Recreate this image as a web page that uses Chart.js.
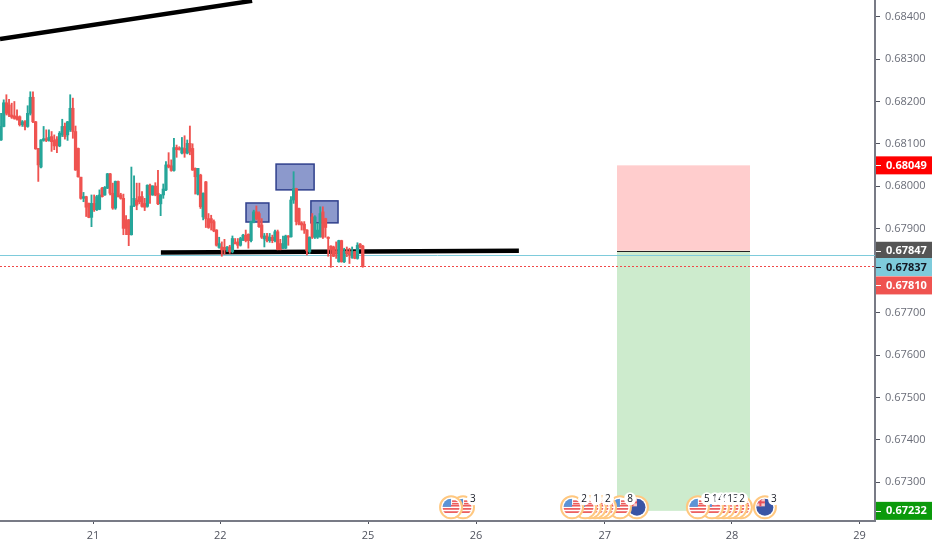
<!DOCTYPE html>
<html>
<head>
<meta charset="utf-8">
<title>Chart</title>
<style>
  html, body { margin: 0; padding: 0; background: #ffffff; }
  canvas { display: block; }
</style>
<script src="https://cdn.jsdelivr.net/npm/chart.js@4"></script>
</head>
<body>
<canvas id="priceChart" width="932" height="550"></canvas>
<script>
// candles, 30 min each
const opens = [
  0.68109,0.68141,0.68197,0.68192,0.68168,0.68166,0.68164,0.68164,0.68145,0.68152,
  0.68141,0.68172,0.68210,0.68152,0.68089,0.68045,0.68108,0.68112,0.68108,0.68117,
  0.68108,0.68111,0.68095,0.68121,0.68141,0.68121,0.68133,0.68184,0.68129,0.68089,
  0.68021,0.67971,0.67975,0.67959,0.67926,0.67959,0.67944,0.67945,0.67995,0.67979,
  0.67995,0.68029,0.67983,0.67948,0.68011,0.67979,0.67971,0.67920,0.67920,0.67885,
  0.67953,0.67967,0.67975,0.67975,0.67959,0.67952,0.68002,0.67979,0.68000,0.67983,
  0.67958,0.67979,0.67991,0.68050,0.68048,0.68037,0.68091,0.68089,0.68078,0.68089,
  0.68078,0.68101,0.68089,0.68042,0.67981,
  0.68026,0.67927,0.68010,0.67923,0.67923,0.67916,0.67896,0.67855,0.67856,0.67855,
  0.67849,0.67856,0.67845,0.67866,0.67868,0.67860,0.67872,0.67884,0.67886,0.67871,
  0.67916,0.67939,0.67935,0.67908,0.67875,0.67882,0.67871,0.67879,0.67871,0.67892,
  0.67864,0.67853,0.67853,0.67882,0.67880,0.67967,0.67994,0.67947,0.67913,0.67910,
  0.67896,0.67845,0.67927,0.67879,0.67879,0.67880,0.67939,0.67923,0.67879,0.67858,
  0.67856,0.67846,0.67821,0.67871,0.67821,0.67846,0.67845,0.67831,0.67845,0.67829,
  0.67863,0.67858
];
const highs = [
  0.68172,0.68204,0.68216,0.68205,0.68196,0.68200,0.68180,0.68166,0.68155,0.68155,
  0.68190,0.68223,0.68223,0.68153,0.68089,0.68110,0.68141,0.68133,0.68133,0.68129,
  0.68121,0.68117,0.68129,0.68158,0.68149,0.68153,0.68216,0.68208,0.68142,0.68090,
  0.68021,0.67985,0.67976,0.67960,0.67979,0.67979,0.67978,0.67991,0.67997,0.67999,
  0.68030,0.68030,0.68007,0.68012,0.68012,0.67983,0.67981,0.67930,0.67921,0.68045,
  0.68024,0.68007,0.68007,0.67987,0.67971,0.68003,0.68005,0.68001,0.68008,0.68037,
  0.67980,0.68005,0.68058,0.68079,0.68062,0.68113,0.68097,0.68093,0.68115,0.68119,
  0.68109,0.68142,0.68100,0.68043,0.68042,
  0.68028,0.67984,0.68011,0.67935,0.67931,0.67920,0.67897,0.67879,0.67868,0.67874,
  0.67857,0.67860,0.67882,0.67876,0.67876,0.67879,0.67886,0.67896,0.67887,0.67917,
  0.67943,0.67953,0.67939,0.67923,0.67888,0.67888,0.67888,0.67884,0.67896,0.67896,
  0.67874,0.67882,0.67884,0.67883,0.67975,0.68034,0.67995,0.67948,0.67916,0.67916,
  0.67897,0.67880,0.67935,0.67930,0.67912,0.67951,0.67951,0.67924,0.67880,0.67859,
  0.67858,0.67868,0.67872,0.67872,0.67853,0.67856,0.67853,0.67856,0.67846,0.67866,
  0.67864,0.67860
];
const lows = [
  0.68108,0.68140,0.68168,0.68164,0.68160,0.68158,0.68156,0.68142,0.68141,0.68133,
  0.68139,0.68168,0.68150,0.68087,0.68011,0.68043,0.68106,0.68105,0.68106,0.68082,
  0.68086,0.68079,0.68093,0.68117,0.68111,0.68108,0.68129,0.68113,0.68037,0.68021,
  0.67969,0.67963,0.67928,0.67925,0.67904,0.67940,0.67942,0.67944,0.67974,0.67978,
  0.67994,0.67979,0.67945,0.67945,0.67974,0.67969,0.67885,0.67885,0.67859,0.67884,
  0.67951,0.67944,0.67958,0.67950,0.67942,0.67950,0.67959,0.67978,0.67977,0.67956,
  0.67930,0.67971,0.67989,0.68043,0.68035,0.68035,0.68068,0.68085,0.68076,0.68068,
  0.68076,0.68074,0.68037,0.67981,0.67979,
  0.67947,0.67920,0.67902,0.67900,0.67896,0.67892,0.67858,0.67853,0.67834,0.67839,
  0.67845,0.67841,0.67842,0.67863,0.67853,0.67858,0.67871,0.67868,0.67853,0.67868,
  0.67913,0.67920,0.67902,0.67876,0.67856,0.67868,0.67867,0.67866,0.67868,0.67849,
  0.67849,0.67852,0.67852,0.67860,0.67879,0.67959,0.67908,0.67908,0.67896,0.67888,
  0.67837,0.67841,0.67876,0.67876,0.67876,0.67879,0.67876,0.67879,0.67834,0.67808,
  0.67833,0.67829,0.67820,0.67820,0.67819,0.67833,0.67817,0.67829,0.67828,0.67827,
  0.67853,0.67808
];
const closes = [
  0.68141,0.68197,0.68172,0.68168,0.68163,0.68160,0.68158,0.68145,0.68152,0.68141,
  0.68172,0.68210,0.68152,0.68088,0.68050,0.68109,0.68112,0.68108,0.68115,0.68105,
  0.68095,0.68095,0.68125,0.68141,0.68117,0.68152,0.68184,0.68129,0.68038,0.68022,
  0.67971,0.67975,0.67950,0.67926,0.67959,0.67944,0.67975,0.67979,0.67975,0.67997,
  0.68029,0.67983,0.67948,0.68011,0.67975,0.67971,0.67900,0.67900,0.67885,0.67953,
  0.67971,0.67955,0.67963,0.67952,0.67950,0.68002,0.67979,0.68000,0.67979,0.67958,
  0.67979,0.67993,0.68050,0.68045,0.68037,0.68091,0.68086,0.68087,0.68091,0.68078,
  0.68101,0.68082,0.68038,0.68022,0.68042,
  0.67951,0.67983,0.67923,0.67902,0.67913,0.67894,0.67860,0.67864,0.67849,0.67849,
  0.67856,0.67845,0.67876,0.67864,0.67860,0.67876,0.67884,0.67871,0.67871,0.67916,
  0.67939,0.67923,0.67904,0.67879,0.67882,0.67871,0.67879,0.67871,0.67892,0.67850,
  0.67850,0.67864,0.67882,0.67879,0.67967,0.67994,0.67916,0.67910,0.67908,0.67896,
  0.67847,0.67879,0.67879,0.67927,0.67896,0.67935,0.67879,0.67902,0.67876,0.67849,
  0.67834,0.67841,0.67871,0.67821,0.67846,0.67841,0.67837,0.67845,0.67829,0.67860,
  0.67855,0.67810
];

// axes
const priceTicks = [0.673,0.674,0.675,0.676,0.677,0.678,0.679,0.680,0.681,0.682,0.683,0.684];
const dayTicks = [34.6, 82.4, 138, 178.6, 227, 274.8, 322.8];
const dayLabels = ['21', '22', '25', '26', '27', '28', '29'];

// long position tool
const positionTimes = [231.6, 281.6];
const entryPrice = 0.67847;
const stopPrice = 0.68049;
const targetPrice = 0.67232;

// trend lines: [time, price, time, price]
const trendLines = [
  [-0.4, 0.68348, 94.4, 0.68438],
  [60.1, 0.67843, 194.7, 0.67847]
];

// blue boxes: [time, price, time, price]
const boxes = [
  [92.1, 0.67960, 100.7, 0.67915],
  [103.4, 0.68052, 117.7, 0.67991],
  [116.5, 0.67965, 126.7, 0.67913]
];

const bidPrice = 0.67837;
const lastPrice = 0.67810;

// price tags on the axis
const tagPrices = [0.68049, 0.67847, 0.67837, 0.67810, 0.67232];
const tagColors = ['#ff0000', '#555555', '#7ecbdb', '#ef5350', '#0b9a0b'];
const tagTextColors = ['#ffffff', '#ffffff', '#131722', '#ffffff', '#ffffff'];
const tagNudge = [0, 0, 12, 19, 0];

// economic calendar flags along the bottom
const eventTimes = [169.2, 173.7, 214.7, 219.6, 221.4, 223.3, 225.2, 227.1, 232.7, 239.1, 262, 267.3, 269.6, 271.8, 274.1, 276.3, 278.2, 287.2];
const eventKinds = ['us','us','us','us','us','us','us','us','us','au','us','us','us','us','us','us','us','au'];
const badgeTimes = [177.4, 219.2, 223.7, 228.2, 236.5, 265.4, 268.4, 270.7, 272.6, 275.2, 278.6, 290.6];
const badgeLabels = ['3', '2', '1', '2', '8', '5', '1', '4', '9', '13', '2', '3'];
const eventPrice = 0.67232;

const upColor = '#26a69a';
const downColor = '#ef5350';
const candleColors = closes.map((c, i) => c >= opens[i] ? upColor : downColor);
const times = closes.map((c, i) => i);

const labelFont = '11px "Open Sans", sans-serif';

// everything that sits under the candles
const drawingsPlugin = {
  id: 'drawings',
  beforeDatasetsDraw(chart) {
    const ctx = chart.ctx;
    const xs = chart.scales.x;
    const ys = chart.scales.y;
    const area = chart.chartArea;
    ctx.save();

    const left = xs.getPixelForValue(positionTimes[0]);
    const right = xs.getPixelForValue(positionTimes[1]);
    const entryY = ys.getPixelForValue(entryPrice);
    const stopY = ys.getPixelForValue(stopPrice);
    const targetY = ys.getPixelForValue(targetPrice);
    ctx.fillStyle = '#ffcdcd';
    ctx.fillRect(left, stopY, right - left, entryY - stopY);
    ctx.fillStyle = '#cdebcd';
    ctx.fillRect(left, entryY, right - left, targetY - entryY);

    // bid line and last price line
    ctx.strokeStyle = '#7ecbdb';
    ctx.lineWidth = 1;
    let y = Math.round(ys.getPixelForValue(bidPrice)) + 0.5;
    ctx.beginPath();
    ctx.moveTo(area.left, y);
    ctx.lineTo(area.right, y);
    ctx.stroke();

    ctx.strokeStyle = '#f04848';
    ctx.setLineDash([2, 2]);
    y = Math.round(ys.getPixelForValue(lastPrice)) + 0.5;
    ctx.beginPath();
    ctx.moveTo(area.left, y);
    ctx.lineTo(area.right, y);
    ctx.stroke();
    ctx.setLineDash([]);

    ctx.strokeStyle = '#222222';
    ctx.beginPath();
    ctx.moveTo(left, Math.round(entryY) + 0.5);
    ctx.lineTo(right, Math.round(entryY) + 0.5);
    ctx.stroke();

    ctx.strokeStyle = '#000000';
    ctx.lineWidth = 4.5;
    trendLines.forEach(t => {
      ctx.beginPath();
      ctx.moveTo(xs.getPixelForValue(t[0]), ys.getPixelForValue(t[1]));
      ctx.lineTo(xs.getPixelForValue(t[2]), ys.getPixelForValue(t[3]));
      ctx.stroke();
    });

    ctx.fillStyle = '#8c99cc';
    ctx.strokeStyle = '#2f3f8c';
    ctx.lineWidth = 1.5;
    boxes.forEach(b => {
      const x0 = xs.getPixelForValue(b[0]);
      const y0 = ys.getPixelForValue(b[1]);
      const w = xs.getPixelForValue(b[2]) - x0;
      const h = ys.getPixelForValue(b[3]) - y0;
      ctx.fillRect(x0, y0, w, h);
      ctx.strokeRect(x0, y0, w, h);
    });
    ctx.restore();
  },
  afterDraw(chart) {
    const ctx = chart.ctx;
    const xs = chart.scales.x;
    const ys = chart.scales.y;
    const area = chart.chartArea;
    ctx.save();

    // flags, drawn back to front so the earlier one stays on top
    const fy = ys.getPixelForValue(eventPrice) - 3.5;
    for (let i = eventTimes.length - 1; i >= 0; i--) {
      drawFlag(ctx, xs.getPixelForValue(eventTimes[i]), fy, eventKinds[i]);
    }
    ctx.font = '10px "Open Sans", sans-serif';
    ctx.textAlign = 'center';
    ctx.textBaseline = 'middle';
    badgeLabels.forEach((label, i) => {
      const bx = xs.getPixelForValue(badgeTimes[i]);
      const w = ctx.measureText(label).width + 6;
      ctx.fillStyle = '#ffffff';
      ctx.beginPath();
      ctx.roundRect(bx - w / 2, fy - 15, w, 13, 6);
      ctx.fill();
      ctx.fillStyle = '#131722';
      ctx.fillText(label, bx, fy - 8);
    });

    // price tags
    ctx.font = 'bold ' + labelFont;
    tagPrices.forEach((p, i) => {
      const ty = ys.getPixelForValue(p) + tagNudge[i];
      ctx.fillStyle = tagColors[i];
      ctx.fillRect(area.right + 1, ty - 9, chart.width - area.right, 18);
      ctx.fillStyle = tagTextColors[i];
      ctx.textAlign = 'left';
      ctx.fillText(p.toFixed(5), area.right + 11, ty + 0.5);
      ctx.strokeStyle = tagTextColors[i];
      ctx.lineWidth = 1;
      ctx.beginPath();
      ctx.moveTo(area.right + 1, Math.round(ty) + 0.5);
      ctx.lineTo(area.right + 6, Math.round(ty) + 0.5);
      ctx.stroke();
    });
    ctx.restore();
  }
};

function drawFlag(ctx, x, y, kind) {
  ctx.save();
  ctx.beginPath();
  ctx.arc(x, y, 11, 0, Math.PI * 2);
  ctx.fillStyle = '#ffffff';
  ctx.fill();
  ctx.strokeStyle = '#ffc880';
  ctx.lineWidth = 2;
  ctx.stroke();
  ctx.beginPath();
  ctx.arc(x, y, 8.5, 0, Math.PI * 2);
  ctx.clip();
  if (kind === 'us') {
    ctx.fillStyle = '#ffffff';
    ctx.fillRect(x - 9, y - 9, 18, 18);
    ctx.fillStyle = '#ec5a5a';
    for (let s = 0; s < 3; s++) {
      ctx.fillRect(x - 9, y + 0.5 + s * 3.2 - 3, 18, 1.7);
    }
    ctx.fillRect(x + 1, y - 7, 8, 1.6);
    ctx.fillRect(x + 1, y - 4.5, 8, 1.6);
    ctx.fillStyle = '#5b93d6';
    ctx.fillRect(x - 9, y - 9, 9, 8.5);
  } else {
    ctx.fillStyle = '#3a55a5';
    ctx.fillRect(x - 9, y - 9, 18, 18);
    ctx.fillStyle = '#f7c6c6';
    ctx.fillRect(x - 9, y - 9, 9, 8);
    ctx.fillStyle = '#e8505b';
    ctx.fillRect(x - 9, y - 6, 9, 2);
    ctx.fillRect(x - 5.5, y - 9, 2, 8);
  }
  ctx.restore();
}

// no label padding, the plot has to run right up to the canvas edges
function noPadding(scale) {
  scale.paddingTop = 0;
  scale.paddingBottom = 0;
  scale.paddingLeft = 0;
  scale.paddingRight = 0;
}

const ctx = document.getElementById('priceChart').getContext('2d');
new Chart(ctx, {
  type: 'bar',
  data: {
    datasets: [
      {
        label: 'wicks',
        data: times.map(i => ({ x: i, y: [lows[i], highs[i]] })),
        backgroundColor: candleColors,
        barThickness: 1.2,
        grouped: false
      },
      {
        label: 'bodies',
        data: times.map(i => ({ x: i, y: [opens[i], closes[i]] })),
        backgroundColor: candleColors,
        barThickness: 2.6,
        minBarLength: 1,
        grouped: false
      }
    ]
  },
  options: {
    responsive: false,
    animation: false,
    layout: { padding: 0 },
    plugins: {
      legend: { display: false },
      tooltip: { enabled: false }
    },
    scales: {
      x: {
        type: 'linear',
        min: -0.4,
        max: 328.6,
        offset: false,
        afterBuildTicks: scale => { scale.ticks = dayTicks.map(v => ({ value: v })); },
        afterFit: scale => { scale.height = 29; noPadding(scale); },
        grid: { offset: false, drawOnChartArea: false, tickLength: 3, tickColor: '#50535e' },
        border: { color: '#787b86', width: 2 },
        ticks: {
          autoSkip: false,
          maxRotation: 0,
          padding: 5,
          color: '#50535e',
          font: { family: '"Open Sans", sans-serif', size: 11 },
          callback: value => dayLabels[dayTicks.indexOf(value)]
        }
      },
      y: {
        position: 'right',
        min: 0.67208,
        max: 0.6844,
        afterBuildTicks: scale => { scale.ticks = priceTicks.map(v => ({ value: v })); },
        afterFit: scale => { scale.width = 57; noPadding(scale); },
        grid: { drawOnChartArea: false, tickLength: 5, tickColor: '#50535e' },
        border: { color: '#787b86', width: 2 },
        ticks: {
          autoSkip: false,
          padding: 5,
          color: '#6a6d78',
          font: { family: '"Open Sans", sans-serif', size: 11 },
          callback: value => value.toFixed(5)
        }
      }
    }
  },
  plugins: [drawingsPlugin]
});
</script>
</body>
</html>
